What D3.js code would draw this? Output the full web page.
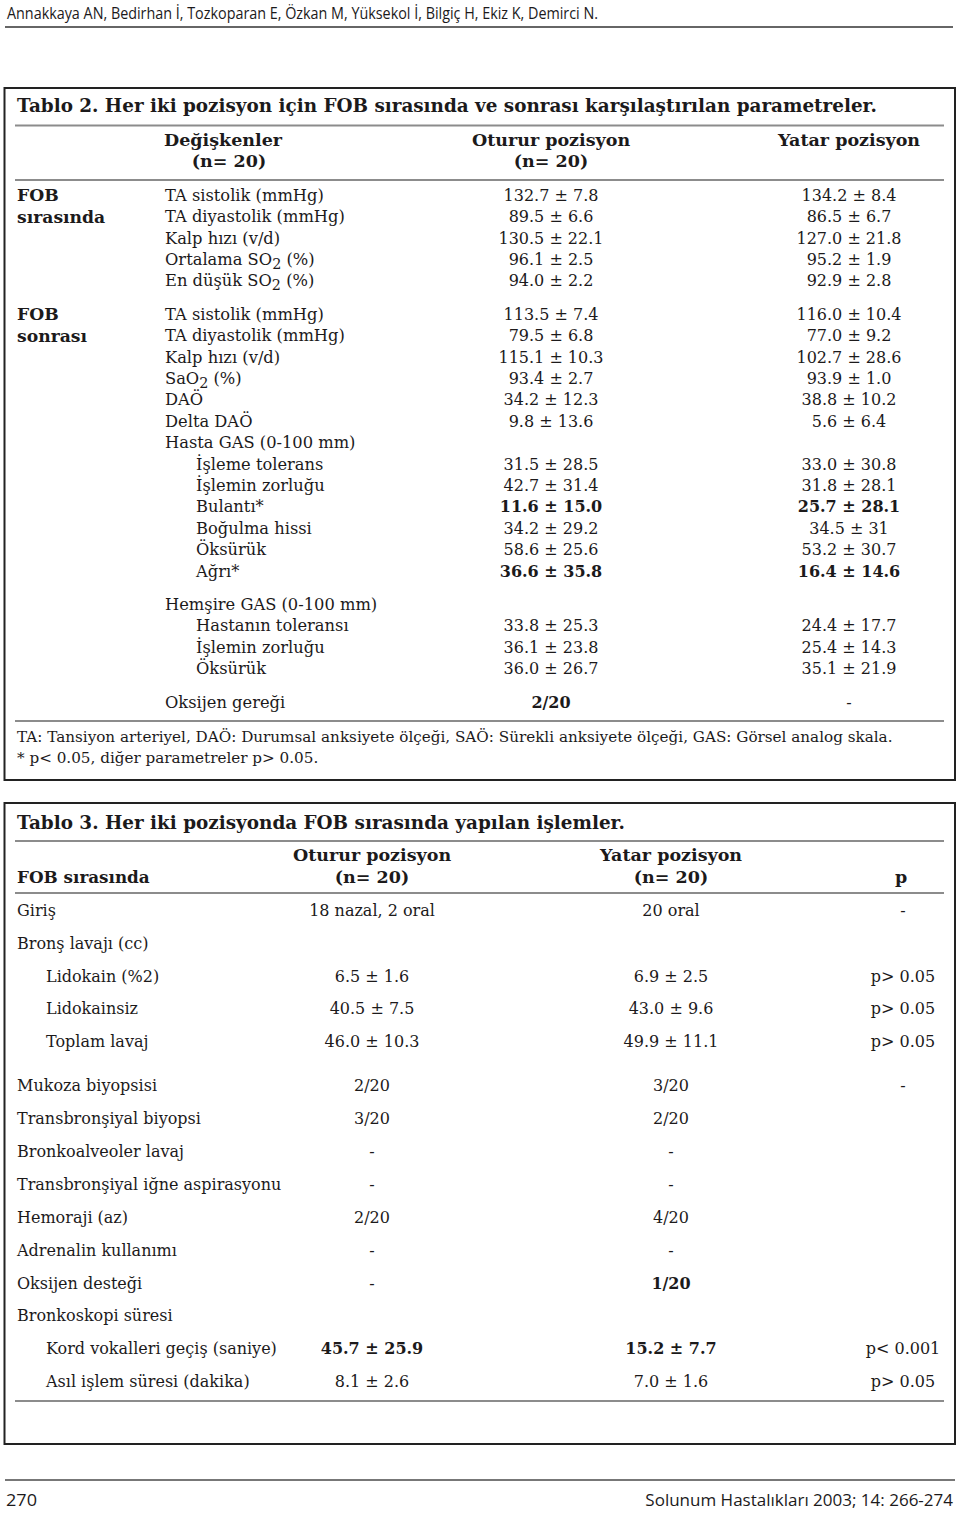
<!DOCTYPE html>
<html>
<head>
<meta charset="utf-8">
<style>
  body { margin: 0; background: #fff; }
  svg { display: block; }
</style>
<script src="https://cdn.jsdelivr.net/npm/d3@7"></script>
</head>
<body>
<svg id="page" width="960" height="1513"></svg>
<script>
// ---- page texts ----
var authors = "Annakkaya AN, Bedirhan İ, Tozkoparan E, Özkan M, Yüksekol İ, Bilgiç H, Ekiz K, Demirci N.";
var pageNo = "270";
var journal = "Solunum Hastalıkları 2003; 14: 266-274";

// ---- Tablo 2 ----
var t2Title = "Tablo 2. Her iki pozisyon için FOB sırasında ve sonrası karşılaştırılan parametreler.";
var t2Columns = [["Değişkenler", "(n= 20)"], ["Oturur pozisyon", "(n= 20)"], ["Yatar pozisyon", ""]];
var t2Groups = [["FOB", "sırasında"], ["FOB", "sonrası"]];
var t2Variables = [
  "TA sistolik (mmHg)", "TA diyastolik (mmHg)", "Kalp hızı (v/d)", "Ortalama SO_2 (%)", "En düşük SO_2 (%)",
  "TA sistolik (mmHg)", "TA diyastolik (mmHg)", "Kalp hızı (v/d)", "SaO_2 (%)", "DAÖ", "Delta DAÖ",
  "Hasta GAS (0-100 mm)", "İşleme tolerans", "İşlemin zorluğu", "Bulantı*", "Boğulma hissi", "Öksürük", "Ağrı*",
  "Hemşire GAS (0-100 mm)", "Hastanın toleransı", "İşlemin zorluğu", "Öksürük",
  "Oksijen gereği"
];
var t2Block = [0, 0, 0, 0, 0, 1, 1, 1, 1, 1, 1, 1, 1, 1, 1, 1, 1, 1, 2, 2, 2, 2, 3];
var t2Oturur = [
  "132.7 ± 7.8", "89.5 ± 6.6", "130.5 ± 22.1", "96.1 ± 2.5", "94.0 ± 2.2",
  "113.5 ± 7.4", "79.5 ± 6.8", "115.1 ± 10.3", "93.4 ± 2.7", "34.2 ± 12.3", "9.8 ± 13.6",
  "", "31.5 ± 28.5", "42.7 ± 31.4", "11.6 ± 15.0", "34.2 ± 29.2", "58.6 ± 25.6", "36.6 ± 35.8",
  "", "33.8 ± 25.3", "36.1 ± 23.8", "36.0 ± 26.7",
  "2/20"
];
var t2Yatar = [
  "134.2 ± 8.4", "86.5 ± 6.7", "127.0 ± 21.8", "95.2 ± 1.9", "92.9 ± 2.8",
  "116.0 ± 10.4", "77.0 ± 9.2", "102.7 ± 28.6", "93.9 ± 1.0", "38.8 ± 10.2", "5.6 ± 6.4",
  "", "33.0 ± 30.8", "31.8 ± 28.1", "25.7 ± 28.1", "34.5 ± 31", "53.2 ± 30.7", "16.4 ± 14.6",
  "", "24.4 ± 17.7", "25.4 ± 14.3", "35.1 ± 21.9",
  "-"
];
var t2SubItems = ["İşleme tolerans", "İşlemin zorluğu", "Bulantı*", "Boğulma hissi", "Öksürük", "Ağrı*", "Hastanın toleransı"];
var t2Significant = ["Bulantı*", "Ağrı*", "Oksijen gereği"];
var t2Notes = [
  "TA: Tansiyon arteriyel, DAÖ: Durumsal anksiyete ölçeği, SAÖ: Sürekli anksiyete ölçeği, GAS: Görsel analog skala.",
  "* p< 0.05, diğer parametreler p> 0.05."
];

// ---- Tablo 3 ----
var t3Title = "Tablo 3. Her iki pozisyonda FOB sırasında yapılan işlemler.";
var t3Columns = [["", "FOB sırasında"], ["Oturur pozisyon", "(n= 20)"], ["Yatar pozisyon", "(n= 20)"], ["", "p"]];
var t3Items = [
  "Giriş", "Bronş lavajı (cc)", "Lidokain (%2)", "Lidokainsiz", "Toplam lavaj",
  "Mukoza biyopsisi", "Transbronşiyal biyopsi", "Bronkoalveoler lavaj", "Transbronşiyal iğne aspirasyonu",
  "Hemoraji (az)", "Adrenalin kullanımı", "Oksijen desteği", "Bronkoskopi süresi",
  "Kord vokalleri geçiş (saniye)", "Asıl işlem süresi (dakika)"
];
var t3Block = [0, 0, 0, 0, 0, 1, 1, 1, 1, 1, 1, 1, 1, 1, 1];
var t3Oturur = ["18 nazal, 2 oral", "", "6.5 ± 1.6", "40.5 ± 7.5", "46.0 ± 10.3",
  "2/20", "3/20", "-", "-", "2/20", "-", "-", "", "45.7 ± 25.9", "8.1 ± 2.6"];
var t3Yatar = ["20 oral", "", "6.9 ± 2.5", "43.0 ± 9.6", "49.9 ± 11.1",
  "3/20", "2/20", "-", "-", "4/20", "-", "1/20", "", "15.2 ± 7.7", "7.0 ± 1.6"];
var t3P = ["-", "", "p> 0.05", "p> 0.05", "p> 0.05",
  "-", "", "", "", "", "", "", "", "p< 0.001", "p> 0.05"];
var t3SubItems = ["Lidokain (%2)", "Lidokainsiz", "Toplam lavaj", "Kord vokalleri geçiş (saniye)", "Asıl işlem süresi (dakika)"];
var t3Significant = [["Oksijen desteği", "yatar"], ["Kord vokalleri geçiş (saniye)", "oturur"], ["Kord vokalleri geçiş (saniye)", "yatar"]];

var SERIF = "'DejaVu Serif', serif";
var SANS = "'Open Sans', 'DejaVu Sans', sans-serif";
var INK = "#1c1a1b";
var RULE = "#8c8c8c";

var svg = d3.select("#page");

// text with "_2" style subscripts
function label(g, str, x, y, size, bold, anchor) {
  var t = g.append("text")
    .attr("x", x).attr("y", y).attr("dy", "0.36em")
    .attr("font-family", SERIF)
    .attr("font-size", size)
    .attr("font-weight", bold ? "bold" : "normal")
    .attr("text-anchor", anchor || "start")
    .attr("fill", INK);
  var parts = str.split("_");
  t.append("tspan").text(parts[0]);
  parts.slice(1).forEach(function(p) {
    t.append("tspan").attr("dy", 4).attr("font-size", size * 0.88).text(p.charAt(0));
    t.append("tspan").attr("dy", -4).text(p.slice(1));
  });
  return t;
}

function rule(y, x1, x2, color, w) {
  svg.append("line")
    .attr("x1", x1).attr("x2", x2).attr("y1", y).attr("y2", y)
    .attr("stroke", color).attr("stroke-width", w);
}

// ---- running head / foot ----
svg.append("text").attr("x", 7).attr("y", 13).attr("dy", "0.36em")
  .attr("font-family", SANS).attr("font-size", 16).attr("fill", INK)
  .attr("textLength", 591).attr("lengthAdjust", "spacingAndGlyphs")
  .text(authors);
rule(27, 5, 953, "#333", 1.6);

rule(1480, 5, 955, "#777", 2);
svg.append("text").attr("x", 6).attr("y", 1500).attr("dy", "0.36em")
  .attr("font-family", SANS).attr("font-size", 17).attr("fill", INK)
  .attr("textLength", 31).attr("lengthAdjust", "spacingAndGlyphs")
  .text(pageNo);
svg.append("text").attr("x", 953).attr("y", 1500).attr("dy", "0.36em")
  .attr("text-anchor", "end")
  .attr("font-family", SANS).attr("font-size", 17).attr("fill", INK)
  .text(journal);

// ================= Tablo 2 =================
var box2 = svg.append("g");
box2.append("rect").attr("x", 4.5).attr("y", 88).attr("width", 950.5).attr("height", 692)
  .attr("fill", "none").attr("stroke", "#222").attr("stroke-width", 2);

label(box2, t2Title, 17, 106, 18, true)
  .attr("textLength", 860).attr("lengthAdjust", "spacingAndGlyphs");
rule(125.5, 15, 944, RULE, 2);

var t2ColX = [223, 551, 849];
t2Columns.forEach(function(c, i) {
  label(box2, c[0], t2ColX[i], 140, 17.5, true, "middle");
  if (c[1]) label(box2, c[1], t2ColX[i] + (i === 0 ? 6 : 0), 161, 17.5, true, "middle");
});
rule(180, 15, 944, RULE, 2);

// row slot -> pixel
var y2 = d3.scaleLinear().domain([0, 1]).range([195, 216.4]);
var slot2 = function(i) { return i + 0.56 * t2Block[i]; };

var rows2 = box2.selectAll("g.row")
  .data(t2Variables.map(function(v, i) {
    return { name: v, i: i, oturur: t2Oturur[i], yatar: t2Yatar[i], block: t2Block[i] };
  }))
  .join("g").attr("class", "row");

rows2.each(function(d) {
  var g = d3.select(this);
  var y = y2(slot2(d.i));
  var sub = t2SubItems.indexOf(d.name) >= 0;
  var sig = t2Significant.indexOf(d.name) >= 0;
  label(g, d.name, sub ? 196 : 165, y, 16.3, false);
  if (d.oturur) label(g, d.oturur, t2ColX[1], y, 16, sig, "middle");
  if (d.yatar) label(g, d.yatar, t2ColX[2], y, 16, sig && d.yatar !== "-", "middle");
});

// group labels at first row of each block
t2Groups.forEach(function(gr, b) {
  var first = t2Block.indexOf(b);
  label(box2, gr[0], 17, y2(slot2(first)), 17.2, true);
  label(box2, gr[1], 17, y2(slot2(first + 1)), 17.2, true);
});

rule(721, 15, 944, RULE, 2);
t2Notes.forEach(function(n, i) {
  label(box2, n, 17, 737 + i * 21, 15.2, false);
});

// ================= Tablo 3 =================
var box3 = svg.append("g");
box3.append("rect").attr("x", 4.5).attr("y", 803).attr("width", 950.5).attr("height", 641)
  .attr("fill", "none").attr("stroke", "#222").attr("stroke-width", 2);

label(box3, t3Title, 17, 823, 18, true)
  .attr("textLength", 608).attr("lengthAdjust", "spacingAndGlyphs");
rule(841, 15, 944, RULE, 2);

var t3ColX = [17, 372, 671, 901];
t3Columns.forEach(function(c, i) {
  var anchor = i === 0 ? "start" : "middle";
  if (c[0]) label(box3, c[0], t3ColX[i], 855, 17.5, true, anchor);
  if (c[1]) label(box3, c[1], t3ColX[i], 877, i === 0 ? 16.8 : 17.5, true, anchor);
});
rule(893, 15, 944, RULE, 2);

var y3 = d3.scaleLinear().domain([0, 1]).range([910, 942.9]);
var slot3 = function(i) { return i + 0.33 * t3Block[i]; };

function isSig3(name, col) {
  return t3Significant.some(function(s) { return s[0] === name && s[1] === col; });
}

var rows3 = box3.selectAll("g.row")
  .data(t3Items.map(function(v, i) {
    return { name: v, i: i, oturur: t3Oturur[i], yatar: t3Yatar[i], p: t3P[i] };
  }))
  .join("g").attr("class", "row");

rows3.each(function(d) {
  var g = d3.select(this);
  var y = y3(slot3(d.i));
  var sub = t3SubItems.indexOf(d.name) >= 0;
  label(g, d.name, sub ? 46 : 17, y, 16, false);
  if (d.oturur) label(g, d.oturur, t3ColX[1], y, 16, isSig3(d.name, "oturur"), "middle");
  if (d.yatar) label(g, d.yatar, t3ColX[2], y, 16, isSig3(d.name, "yatar"), "middle");
  if (d.p) label(g, d.p, 903, y, 16, false, "middle");
});

rule(1401, 15, 944, RULE, 2);
</script>
</body>
</html>
